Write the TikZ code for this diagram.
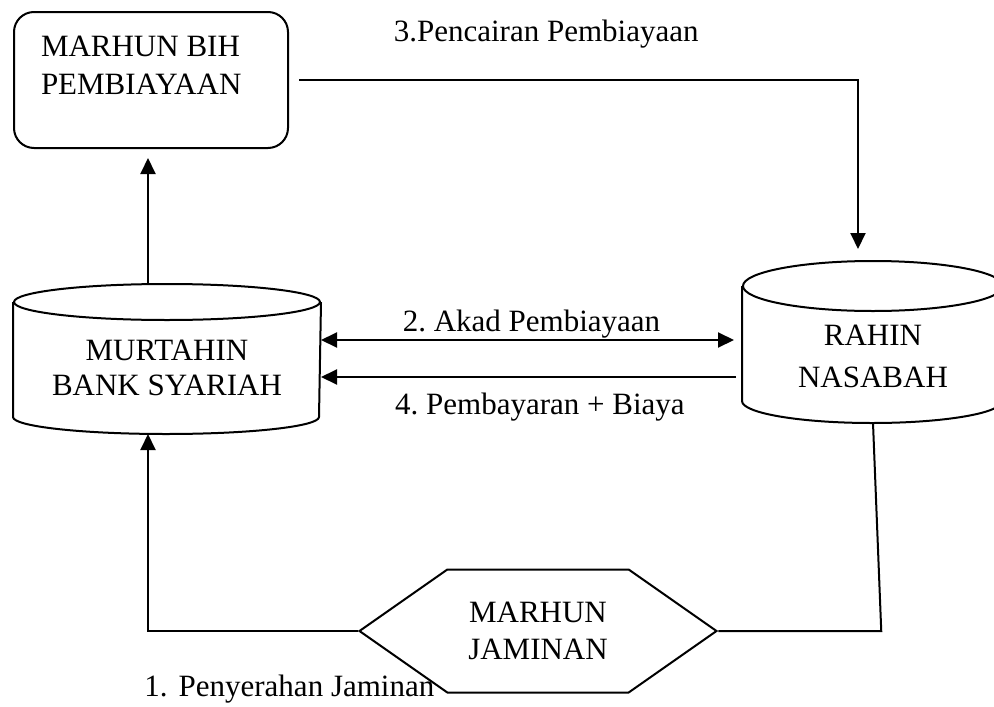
\documentclass[tikz,border=0pt]{standalone}
\usepackage{fontspec}
\setmainfont{Liberation Serif}
\frenchspacing
\usetikzlibrary{shapes.symbols,arrows.meta}
\begin{document}
\begin{tikzpicture}[x=1pt, y=-1pt, line width=2pt,
  every node/.style={font=\fontsize{31}{37}\selectfont\frenchspacing},
  arr/.style={-{Triangle[length=16pt,width=15pt]}},
  dbbox/.style={rectangle, inner sep=0pt},
  lbl/.style={inner sep=0pt}]
\useasboundingbox (0,0) rectangle (994,707);

\node[draw, rounded corners=20pt, minimum width=274pt, minimum height=136pt] (marhunbih) at (151,80) {\parbox[c][88pt][t]{220pt}{\raggedright MARHUN BIH\\[1pt]PEMBIAYAAN}};
\node[dbbox, minimum width=306pt, minimum height=148pt] (murtahin) at (167,359) {\raisebox{-1pt}[0pt][0pt]{\parbox[t]{270pt}{\centering MURTAHIN\\[-2pt]BANK SYARIAH}}};
\node[dbbox, minimum width=260pt, minimum height=160pt] (rahin) at (873,342) {\raisebox{-3pt}[0pt][0pt]{\parbox[t]{220pt}{\centering RAHIN\\[5pt]NASABAH}}};
\node[draw, signal, signal to=west and east, signal pointer angle=70, minimum width=357pt, minimum height=123pt, align=center] (jaminan) at (538,631) {MARHUN\\JAMINAN};

% cylinders
\draw ([yshift=-18pt]murtahin.north) ellipse [x radius=153pt, y radius=18pt];
\draw ([yshift=-18pt]murtahin.north west) -- ([yshift=17pt]murtahin.south west) arc [start angle=180, end angle=360, x radius=153pt, y radius=17pt] -- ([yshift=-18pt]murtahin.north east);
\draw ([yshift=-25pt]rahin.north) ellipse [x radius=130pt, y radius=25pt];
\draw ([yshift=-25pt]rahin.north west) -- ([yshift=22pt]rahin.south west) arc [start angle=180, end angle=360, x radius=130pt, y radius=22pt] -- ([yshift=-25pt]rahin.north east);

\draw[arr, shorten >=9pt] ([xshift=-19pt]murtahin.north) -- ([xshift=-19pt]murtahin.north |- marhunbih.south);
\draw[arr, shorten <=10pt, shorten >=12pt] (marhunbih.east) -| node[lbl, above=31pt, pos=0.226] {3.Pencairan Pembiayaan} ([xshift=-15pt]rahin.north);

\draw[{Triangle[length=16pt,width=15pt]}-{Triangle[length=16pt,width=15pt]}, shorten >=8pt] ([yshift=19pt]murtahin.east) -- node[lbl, above=1pt] {2. Akad Pembiayaan} ([yshift=19pt]murtahin.east -| rahin.west);
\draw[arr, shorten <=6pt] ([yshift=-18pt]murtahin.east -| rahin.west) -- node[lbl, below=15pt, pos=0.48] {4. Pembayaran + Biaya} ([yshift=-18pt]murtahin.east);

\draw[arr] (jaminan.west) -| node[lbl, below=43pt, pos=0.163] {1.\hspace{11pt}Penyerahan Jaminan} ([xshift=-19pt]murtahin.south);
\draw (jaminan.east) -- ++(163,0) -- (rahin.south);

\end{tikzpicture}
\end{document}
